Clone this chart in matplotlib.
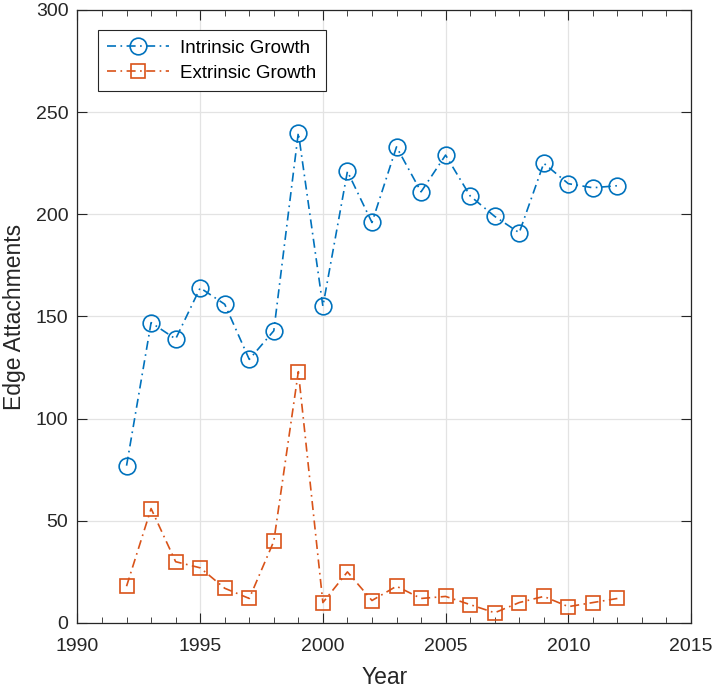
import matplotlib
matplotlib.use('Agg')
import matplotlib.pyplot as plt
from matplotlib.ticker import MultipleLocator

years = list(range(1992, 2013))
intrinsic = [77, 147, 139, 164, 156, 129, 143, 240, 155, 221, 196,
             233, 211, 229, 209, 199, 191, 225, 215, 213, 214]
extrinsic = [18, 56, 30, 27, 17, 12, 40, 123, 10, 25, 11,
             18, 12, 13, 9, 5, 10, 13, 8, 10, 12]

plt.rcParams['font.family'] = ['Liberation Sans', 'DejaVu Sans']
plt.rcParams['lines.scale_dashes'] = False

fig = plt.figure(figsize=(7.14, 6.89), dpi=100)
ax = fig.add_axes([0.1085, 0.0958, 0.8593, 0.8897])

# MATLAB-like dash-dot pattern
dashdot = (0, (6.5, 3.2, 1.2, 3.2))
ax.plot(years, intrinsic, linestyle=dashdot, color='#0072BD', marker='o',
        markersize=12, markerfacecolor='none', markeredgewidth=1.2,
        linewidth=1.2, label='Intrinsic Growth')
ax.plot(years, extrinsic, linestyle=dashdot, color='#D95319', marker='s',
        markersize=10.5, markerfacecolor='none', markeredgewidth=1.2,
        linewidth=1.2, label='Extrinsic Growth')

ax.set_xlim(1990, 2015)
ax.set_ylim(0, 300)
ax.xaxis.set_major_locator(MultipleLocator(5))
ax.xaxis.set_minor_locator(MultipleLocator(1))
ax.yaxis.set_major_locator(MultipleLocator(50))

ax.grid(True, which='major', color='#e3e3e3', linewidth=0.9)
ax.set_axisbelow(True)
ax.tick_params(which='both', direction='in', top=True, right=True,
               colors='#262626', labelsize=14)
ax.tick_params(which='major', length=7, width=0.8)
ax.tick_params(which='minor', length=4, width=0.6)
ax.tick_params(axis='x', which='major', pad=10.5)
ax.tick_params(axis='y', which='major', pad=6.5)
for s in ax.spines.values():
    s.set_color('#262626')
    s.set_linewidth(0.9)

ax.set_xlabel('Year', fontsize=16.5, color='#262626', labelpad=8)
ax.set_ylabel('Edge Attachments', fontsize=16.5, color='#262626', labelpad=7)

leg = ax.legend(loc='upper left', bbox_to_anchor=(0.033, 0.967), fontsize=13.5,
                fancybox=False, edgecolor='#262626', framealpha=1,
                handlelength=3.3, handletextpad=0.6, labelspacing=0.42,
                borderpad=0.5, borderaxespad=0)
leg.get_frame().set_linewidth(0.8)

plt.savefig('out.png', dpi=100)
